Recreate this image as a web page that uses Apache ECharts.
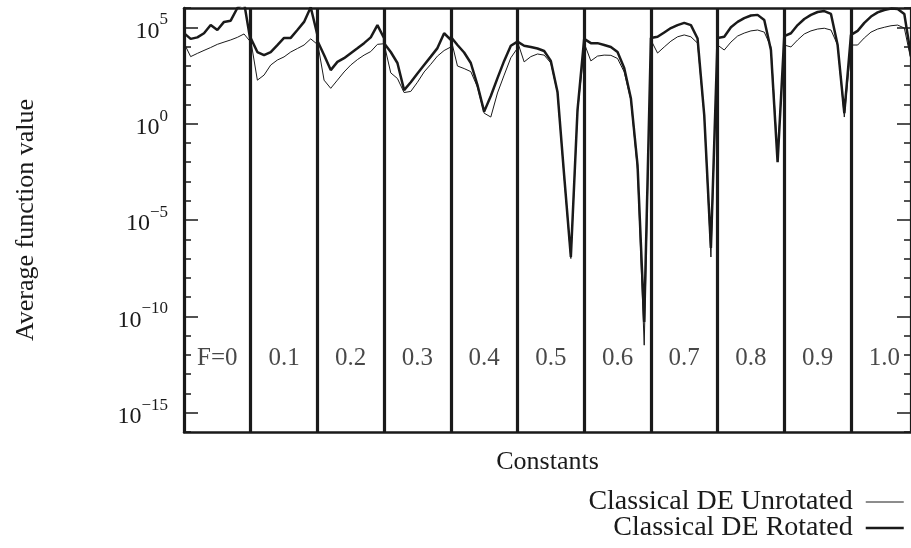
<!DOCTYPE html>
<html>
<head>
<meta charset="utf-8">
<script src="https://cdn.jsdelivr.net/npm/echarts@6/dist/echarts.min.js"></script>
<style>html,body{margin:0;padding:0;background:#fff}#c{width:911px;height:548px}</style>
</head>
<body>
<div id="c"></div>
<script>
// Panels (mutation constant F) and the crossover values inside each panel
const panelLabels = ['F=0', '0.1', '0.2', '0.3', '0.4', '0.5', '0.6', '0.7', '0.8', '0.9', '1.0'];
const crValues = [0, 0.1, 0.2, 0.3, 0.4, 0.5, 0.6, 0.7, 0.8, 0.9, 1.0];

// Classical DE Unrotated (thin line), one array per F panel
const unrotF00 = [1.5e4, 3.0e3, 4.4e3, 6.3e3, 8.9e3, 1.3e4, 1.7e4, 2.2e4, 3.0e4, 4.5e4, 1.7e4];
const unrotF01 = [2.2e4, 1.8e2, 3.3e2, 1.1e3, 2.0e3, 2.9e3, 5.2e3, 7.9e3, 1.2e4, 2.5e4, 1.3e4];
const unrotF02 = [1.8e4, 1.8e2, 68, 1.8e2, 4.8e2, 1.1e3, 2.1e3, 3.6e3, 5.5e3, 1.3e4, 1.4e4];
const unrotF03 = [1.5e4, 4.3e2, 2.2e2, 41, 47, 1.4e2, 4.8e2, 1.2e3, 3.2e3, 6.2e3, 9.5e3];
const unrotF04 = [2.7e4, 9.8e2, 7.2e2, 5.0e2, 79, 3.5, 2.2, 39, 3.3e2, 2.6e3, 8.3e3];
const unrotF05 = [1.8e4, 1.6e3, 3.0e3, 4.1e3, 3.6e3, 1.4e3, 39, 1.6e-3, 1.0e-7, 4.0, 7.9e3];
const unrotF06 = [1.5e4, 1.8e3, 3.2e3, 3.6e3, 3.5e3, 2.4e3, 4.8e2, 17, 4.0e-3, 3.2e-12, 1.3e4];
const unrotF07 = [2.2e4, 4.6e3, 9.5e3, 1.9e4, 3.2e4, 4.0e4, 3.2e4, 1.5e4, 2.5, 1.2e-7, 1.7e4];
const unrotF08 = [1.2e4, 6.6e3, 1.7e4, 3.5e4, 5.0e4, 6.5e4, 7.2e4, 5.6e4, 9.5e3, 2.3e-2, 1.2e4];
const unrotF09 = [1.2e4, 9.5e3, 2.2e4, 4.5e4, 6.5e4, 8.1e4, 8.9e4, 7.2e4, 1.2e4, 2.2, 1.2e4];
const unrotF10 = [1.5e4, 1.2e4, 2.8e4, 5.6e4, 8.1e4, 1.0e5, 1.2e5, 1.3e5, 9.1e4, 2.0e3, 2.0e4];

// Classical DE Rotated (thick line), one array per F panel
const rotF00 = [5.0e4, 2.5e4, 3.0e4, 4.9e4, 1.3e5, 7.2e4, 1.9e5, 2.2e5, 1.0e6, 2.0e6, 1.7e4];
const rotF01 = [2.8e4, 5.2e3, 3.6e3, 5.2e3, 1.2e4, 2.8e4, 2.8e4, 7.2e4, 1.9e5, 1.1e6, 4.0e4];
const rotF02 = [2.0e4, 3.6e3, 6.0e2, 1.6e3, 2.5e3, 4.5e3, 8.1e3, 1.5e4, 3.0e4, 1.3e5, 2.7e4];
const rotF03 = [1.5e4, 5.2e3, 1.4e3, 55, 1.4e2, 4.0e2, 1.1e3, 3.0e3, 8.3e3, 4.9e4, 2.2e4];
const rotF04 = [3.2e4, 1.2e4, 4.9e3, 1.4e3, 1.0e2, 4.2, 27, 2.3e2, 1.8e3, 1.1e4, 1.8e4];
const rotF05 = [1.8e4, 1.1e4, 9.5e3, 7.9e3, 5.9e3, 1.8e3, 44, 2.0e-3, 1.2e-7, 5.1, 2.5e4];
const rotF06 = [2.2e4, 1.5e4, 1.5e4, 1.2e4, 9.5e3, 5.2e3, 7.8e2, 21, 7.1e-3, 5.1e-11, 2.2e4];
const rotF07 = [2.8e4, 3.2e4, 5.4e4, 9.1e4, 1.3e5, 1.7e5, 1.3e5, 2.6e4, 2.8, 3.5e-7, 2.8e4];
const rotF08 = [3.2e4, 3.2e4, 1.0e5, 1.9e5, 3.0e5, 4.1e5, 4.4e5, 2.4e5, 6.6e3, 1.0e-2, 3.5e4];
const rotF09 = [4.0e4, 4.9e4, 1.3e5, 2.7e5, 4.4e5, 6.2e5, 6.9e5, 4.9e5, 1.2e4, 3.5, 4.0e4];
const rotF10 = [4.5e4, 6.5e4, 1.7e5, 3.6e5, 5.9e5, 7.9e5, 9.3e5, 8.9e5, 4.9e5, 3.2e3, 3.2e4];

// y tick exponents
const minorTickExponents = [-16, 6];   // minor ticks every decade over this range
const majorTickExponents = [-15, 5];   // labelled ticks every 5 decades

const unrotPanels = [unrotF00, unrotF01, unrotF02, unrotF03, unrotF04, unrotF05, unrotF06, unrotF07, unrotF08, unrotF09, unrotF10];
const rotPanels = [rotF00, rotF01, rotF02, rotF03, rotF04, rotF05, rotF06, rotF07, rotF08, rotF09, rotF10];

function buildSeries(panels) {
  const out = [];
  panels.forEach((vals, f) => {
    vals.forEach((v, i) => out.push([f + crValues[i], v]));
  });
  return out;
}

const INK = '#1a1a1a';
const FONT = 'Liberation Serif';
const GRID_LEFT = 184, GRID_TOP = 8, GRID_W = 730, GRID_H = 424;
const DECADE = GRID_H / (minorTickExponents[1] - minorTickExponents[0]);

const chart = echarts.init(document.getElementById('c'), null, { renderer: 'canvas' });

const sup = v => (v < 0 ? '\u2212' + (-v) : String(v));

chart.setOption({
  animation: false,
  backgroundColor: '#fff',
  textStyle: { fontFamily: FONT, color: INK },
  grid: [
    { left: GRID_LEFT, top: GRID_TOP, width: GRID_W, height: GRID_H, containLabel: false },
    { left: GRID_LEFT, top: GRID_TOP + DECADE * (minorTickExponents[1] - majorTickExponents[1]),
      width: GRID_W, height: DECADE * (majorTickExponents[1] - majorTickExponents[0]), containLabel: false }
  ],
  legend: {
    data: [
      { name: 'Classical DE Unrotated', lineStyle: { width: 1, color: INK } },
      { name: 'Classical DE Rotated', lineStyle: { width: 2.5, color: INK } }
    ],
    orient: 'vertical', right: 6, top: 488, height: 58, padding: 0, align: 'right',
    itemWidth: 38, itemHeight: 14, itemGap: -2,
    itemStyle: { opacity: 0, borderWidth: 0 },
    textStyle: { fontFamily: FONT, fontSize: 28, color: INK, lineHeight: 24, padding: [0, 8, 0, 0] },
    inactiveColor: '#999'
  },
  xAxis: [
    { type: 'value', gridIndex: 0, position: 'bottom', min: 0, max: 10.9, interval: 1,
      name: 'Constants', nameLocation: 'middle', nameGap: 17,
      nameTextStyle: { fontFamily: FONT, fontSize: 26, color: INK },
      axisLine: { show: true, onZero: false, lineStyle: { color: INK, width: 2.5 } },
      axisTick: { show: false }, axisLabel: { show: false },
      splitLine: { show: true, lineStyle: { color: INK, width: 3.2, type: 'solid' } } },
    { type: 'value', gridIndex: 0, position: 'top', min: 0, max: 10.9,
      axisLine: { show: true, onZero: false, lineStyle: { color: INK, width: 2.5 } },
      axisTick: { show: false }, axisLabel: { show: false }, splitLine: { show: false } },
    { type: 'value', gridIndex: 1, min: 0, max: 10.9, show: false }
  ],
  yAxis: [
    { type: 'log', logBase: 10, gridIndex: 0, position: 'left', min: 1e-16, max: 1e6,
      name: 'Average function value', nameLocation: 'middle', nameGap: 145, nameRotate: 90,
      nameTextStyle: { fontFamily: FONT, fontSize: 26, color: INK },
      axisLine: { show: true, onZero: false, lineStyle: { color: INK, width: 2.5 } },
      axisTick: { show: false }, axisLabel: { show: false }, splitLine: { show: false } },
    { type: 'value', gridIndex: 0, position: 'left', min: minorTickExponents[0], max: minorTickExponents[1], interval: 1,
      axisLine: { show: false, onZero: false }, axisTick: { show: true, inside: true, length: 7, lineStyle: { color: INK, width: 1.5 } },
      axisLabel: { show: false }, splitLine: { show: false } },
    { type: 'value', gridIndex: 0, position: 'right', min: minorTickExponents[0], max: minorTickExponents[1], interval: 1,
      axisLine: { show: true, onZero: false, lineStyle: { color: INK, width: 2.5 } },
      axisTick: { show: true, inside: true, length: 7, lineStyle: { color: INK, width: 1.5 } },
      axisLabel: { show: false }, splitLine: { show: false } },
    { type: 'value', gridIndex: 1, position: 'left', min: majorTickExponents[0], max: majorTickExponents[1], interval: 5,
      axisLine: { show: false, onZero: false },
      axisTick: { show: true, inside: true, length: 14, lineStyle: { color: INK, width: 1.5 } },
      axisLabel: { show: true, margin: 16, formatter: v => '{b|10}{s|' + sup(v) + '}',
        rich: { b: { fontFamily: FONT, fontSize: 24, color: INK, verticalAlign: 'bottom', lineHeight: 32 },
                s: { fontFamily: FONT, fontSize: 17, color: INK, verticalAlign: 'top', lineHeight: 32 } } },
      splitLine: { show: false } },
    { type: 'value', gridIndex: 1, position: 'right', min: majorTickExponents[0], max: majorTickExponents[1], interval: 5,
      axisLine: { show: false, onZero: false },
      axisTick: { show: true, inside: true, length: 14, lineStyle: { color: INK, width: 1.5 } },
      axisLabel: { show: false }, splitLine: { show: false } }
  ],
  series: [
    { name: 'Classical DE Unrotated', type: 'line', xAxisIndex: 0, yAxisIndex: 0,
      data: buildSeries(unrotPanels), symbol: 'none', showSymbol: false, clip: true, z: 3,
      lineStyle: { color: INK, width: 1 }, itemStyle: { color: INK } },
    { name: 'Classical DE Rotated', type: 'line', xAxisIndex: 0, yAxisIndex: 0,
      data: buildSeries(rotPanels), symbol: 'none', showSymbol: false, clip: true, z: 4,
      lineStyle: { color: INK, width: 2.5 }, itemStyle: { color: INK } },
    { name: 'panels', type: 'scatter', xAxisIndex: 0, yAxisIndex: 0, symbolSize: 0, silent: true, z: 5,
      data: panelLabels.map((t, f) => ({ name: t, value: [f + 0.5, 6.5e-13] })),
      label: { show: true, position: 'inside', formatter: p => p.name,
        fontFamily: FONT, fontSize: 25, color: INK } }
  ]
});
</script>
</body>
</html>
